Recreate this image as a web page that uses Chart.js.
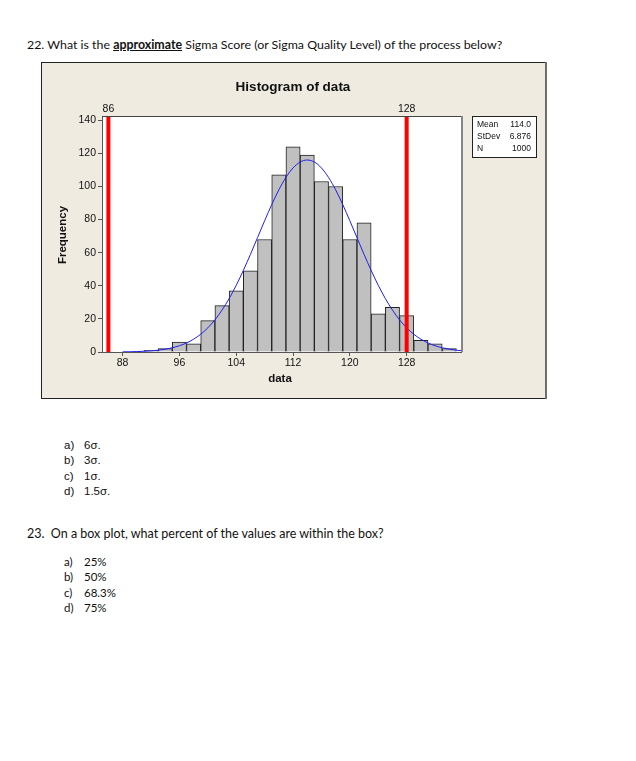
<!DOCTYPE html>
<html>
<head>
<meta charset="utf-8">
<script src="https://cdn.jsdelivr.net/npm/chart.js@4.4.1/dist/chart.umd.min.js"></script>
<style>
  body { margin: 0; background: #fff; width: 636px; height: 761px; position: relative; overflow: hidden; }
  .q { position: absolute; font-family: Lato, "Liberation Sans", sans-serif; font-size: 12px; color: #111; white-space: nowrap; line-height: 15px; }
  .opt { position: absolute; font-family: "Liberation Sans", Arial, sans-serif; font-size: 11.5px; color: #111; white-space: nowrap; line-height: 15.3px; }
  .opt.cal { font-family: Lato, "Liberation Sans", sans-serif; font-size: 11.5px; }
  .opt span { display: inline-block; width: 20px; }
  #wrap { position: absolute; left: 41px; top: 62px; width: 506px; height: 337px; }
</style>
</head>
<body>
<div class="q" id="q22" style="left:27px; top:37px;">22. What is the <b><u>approximate</u></b> Sigma Score (or Sigma Quality Level) of the process below?</div>
<div id="wrap"><canvas id="histChart" width="506" height="337"></canvas></div>
<div class="opt" style="left:64px; top:438px;">
  <div><span>a)</span>6σ.</div>
  <div><span>b)</span>3σ.</div>
  <div><span>c)</span>1σ.</div>
  <div><span>d)</span>1.5σ.</div>
</div>
<div class="q" id="q23" style="left:27px; top:526px;">23.&nbsp; On a box plot, what percent of the values are within the box?</div>
<div class="opt cal" style="left:64px; top:554px;">
  <div><span>a)</span>25%</div>
  <div><span>b)</span>50%</div>
  <div><span>c)</span>68.3%</div>
  <div><span>d)</span>75%</div>
</div>
<script>
// Histogram data (bin width 2, centres on even values)
const binCenters = [92, 94, 96, 98, 100, 102, 104, 106, 108, 110, 112, 114, 116, 118, 120, 122, 124, 126, 128, 130, 132, 134];
const counts = [1, 2, 6, 5, 19, 28, 37, 49, 68, 107, 124, 119, 103, 100, 68, 78, 23, 27, 22, 7, 5, 2];

// Fitted normal curve
const curveX = [88, 89, 90, 91, 92, 93, 94, 95, 96, 97, 98, 99, 100, 101, 102, 103, 104, 105, 106, 107, 108, 109, 110, 111, 112, 113,
  114, 115, 116, 117, 118, 119, 120, 121, 122, 123, 124, 125, 126, 127, 128, 129, 130, 131, 132, 133, 134, 135, 136];
const curveY = [0.09, 0.16, 0.26, 0.43, 0.7, 1.09, 1.69, 2.55, 3.77, 5.46, 7.74, 10.75, 14.6, 19.43, 25.31, 32.27, 40.3, 49.27, 58.98, 69.11, 79.3, 89.08, 97.97, 105.5, 111.2, 114.8,
  116.0, 114.8, 111.2, 105.5, 97.97, 89.08, 79.3, 69.11, 58.98, 49.27, 40.3, 32.27, 25.31, 19.43, 14.6, 10.75, 7.74, 5.46, 3.77, 2.55, 1.69, 1.09, 0.7];

const specLimits = [86, 128];
const xTicks = [88, 96, 104, 112, 120, 128];
const yTicks = [0, 20, 40, 60, 80, 100, 120, 140];
const statLabels = ['Mean', 'StDev', 'N'];
const statValues = ['114.0', '6.876', '1000'];

const FONT = '"Liberation Sans", Arial, sans-serif';

// stretch the question lines to the width they have in the scan
function fitWidth(el, target) {
    const size = parseFloat(getComputedStyle(el).fontSize);
    const w = el.getBoundingClientRect().width;
    el.style.fontSize = (size * target / w).toFixed(2) + 'px';
}
fitWidth(document.getElementById('q22'), 476);
fitWidth(document.getElementById('q23'), 357);

const decor = {
    id: 'decor',
    beforeDraw(chart) {
        const { ctx, width, height, chartArea: a } = chart;
        ctx.save();
        ctx.fillStyle = '#efebe1';
        ctx.fillRect(0, 0, width, height);
        // frame
        ctx.fillStyle = '#222';
        ctx.fillRect(0, 0, width, 1);
        ctx.fillRect(0, 0, 1, height);
        ctx.fillRect(0, height - 1, width, 1);
        ctx.fillStyle = '#6e6e6e';
        ctx.fillRect(width - 2, 0, 2, height);
        // plot area
        ctx.fillStyle = '#fff';
        ctx.fillRect(a.left, a.top, a.right - a.left, a.bottom - a.top);
        ctx.restore();
    },
    afterDraw(chart) {
        const { ctx, chartArea: a, scales } = chart;
        ctx.save();
        // top and right border of plot
        ctx.fillStyle = '#444';
        ctx.fillRect(a.left, a.top - 1, a.right - a.left + 2, 1);
        ctx.fillStyle = '#858585';
        ctx.fillRect(a.right, a.top - 1, 2, a.bottom - a.top + 1);

        ctx.fillStyle = '#111';
        ctx.textAlign = 'center';
        ctx.textBaseline = 'alphabetic';
        ctx.font = 'bold 13.5px ' + FONT;
        ctx.fillText('Histogram of data', 252, 29);

        // spec limit labels
        ctx.font = '10.5px ' + FONT;
        specLimits.forEach(v => {
            ctx.fillText(String(v), scales.x.getPixelForValue(v), a.top - 5);
        });

        // axis titles
        ctx.font = 'bold 11.5px ' + FONT;
        ctx.textBaseline = 'middle';
        ctx.fillText('data', 239, 317);
        ctx.save();
        ctx.translate(22, 173);
        ctx.rotate(-Math.PI / 2);
        ctx.fillText('Frequency', 0, 0);
        ctx.restore();

        // stats box
        ctx.fillStyle = '#fff';
        ctx.fillRect(431, 54, 64, 41);
        ctx.strokeStyle = '#222';
        ctx.lineWidth = 1;
        ctx.strokeRect(431.5, 54.5, 64, 41);
        ctx.fillStyle = '#111';
        ctx.font = '8.5px ' + FONT;
        statLabels.forEach((lab, i) => {
            const y = 63 + i * 12;
            ctx.textAlign = 'left';
            ctx.fillText(lab, 436, y);
            ctx.textAlign = 'right';
            ctx.fillText(statValues[i], 490, y);
        });
        ctx.restore();
    }
};

const ctx = document.getElementById('histChart').getContext('2d');
const histChart = new Chart(ctx, {
    type: 'bar',
    data: {
        datasets: [{
            label: 'data',
            data: binCenters.map((c, i) => ({ x: c, y: counts[i] })),
            backgroundColor: '#c0c0c0',
            borderColor: '#222',
            borderWidth: 1,
            barPercentage: 1,
            categoryPercentage: 1,
            order: 3
        }, {
            type: 'line',
            label: 'Normal',
            data: curveX.map((x, i) => ({ x: x, y: curveY[i] })),
            borderColor: '#1f1ff0',
            borderWidth: 1,
            pointRadius: 0,
            cubicInterpolationMode: 'monotone',
            order: 2
        }, ...specLimits.map(v => ({
            type: 'line',
            label: 'Spec ' + v,
            data: [{ x: v, y: 0 }, { x: v, y: 142 }],
            borderColor: '#ff0000',
            borderWidth: 4,
            pointRadius: 0,
            order: 1
        }))]
    },
    options: {
        responsive: false,
        animation: false,
        layout: {
            padding: { left: 0, top: 55, right: 86, bottom: 0 }
        },
        plugins: {
            legend: { display: false },
            tooltip: { enabled: false }
        },
        scales: {
            x: {
                type: 'linear',
                min: 85.1,
                max: 135.65,
                offset: false,
                afterBuildTicks: s => { s.ticks = xTicks.map(v => ({ value: v })); },
                afterFit: s => { s.height = 47; },
                grid: {
                    offset: false,
                    drawOnChartArea: false,
                    tickLength: 4,
                    color: '#555'
                },
                border: { color: '#555' },
                ticks: {
                    color: '#111',
                    padding: 1,
                    maxRotation: 0,
                    font: { family: FONT, size: 10.5 }
                }
            },
            y: {
                min: 0,
                max: 142,
                afterBuildTicks: s => { s.ticks = yTicks.map(v => ({ value: v })); },
                afterFit: s => { s.width = 61; },
                grid: {
                    drawOnChartArea: false,
                    tickLength: 4,
                    color: '#555'
                },
                border: { color: '#555' },
                ticks: {
                    color: '#111',
                    padding: 2,
                    font: { family: FONT, size: 10.5 }
                }
            }
        }
    },
    plugins: [decor]
});
</script>
</body>
</html>
